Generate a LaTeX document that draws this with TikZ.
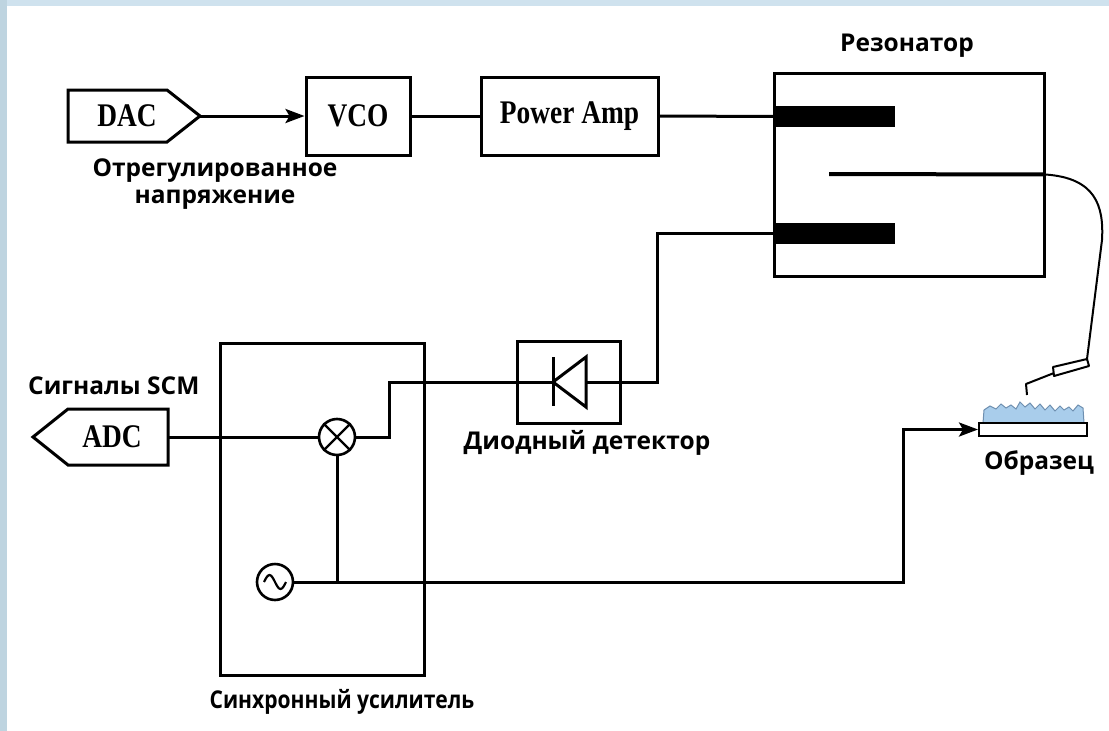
\documentclass[tikz,border=0pt]{standalone}
\usepackage{fontspec}
\setmainfont{Liberation Serif}
\newfontfamily\labfont{Open Sans}
\usetikzlibrary{arrows.meta,calc}
\definecolor{frameA}{HTML}{BED4E0}
\definecolor{frameB}{HTML}{CFE2EE}
\definecolor{film}{HTML}{A9CDEB}
\definecolor{filmedge}{HTML}{6E8FB0}
\newcommand\cond[1]{\scalebox{0.83}[1]{#1}}
\begin{document}
\begin{tikzpicture}[x=1pt,y=-1pt,
  line/.style={line width=3pt},
  blkfont/.style={font=\bfseries\fontsize{33}{35}\selectfont},
  blk/.style={draw,line width=3pt,minimum width=#1,minimum height=78pt,inner sep=0pt,blkfont},
  boxonly/.style={draw,line width=3pt,inner sep=0pt},
  tag/.style={font=\labfont\bfseries\fontsize{24.5}{27}\selectfont,align=center,inner sep=0pt},
  arr/.style={-{Stealth[length=19pt,width=14pt,inset=4pt]}},
  electrode/.style={fill=black,draw=none,minimum width=121pt,minimum height=21pt,inner sep=0pt,anchor=west}
]
\useasboundingbox (0,0) rectangle (1109,731);
\fill[white] (0,0) rectangle (1109,731);
\fill[frameB] (0,0) rectangle (1109,6);
\fill[frameA] (0,0) rectangle (7,731);

% --- source chain ---
\draw[line,line join=miter] (68,90) -- (167,90) -- (200,116) -- (167,142) -- (68,142) -- cycle;
\node[blkfont] (dac) at (127,116) {\cond{DAC}};
\coordinate (dactip) at (200,116);
\node[blk=104pt] (vco) at (358,116) {\cond{VCO}};
\node[blk=177pt] (pa) at (569.5,116) {\cond{Power Amp}};
\draw[line,arr] (dactip) -- (vco.west);
\draw[line] (vco.east) -- (pa.west);
\node[tag] (dactxt) at (215,184) {Отрегулированное\\напряжение};

% --- resonator ---
\node[boxonly,minimum width=270pt,minimum height=203pt] (res) at (909,174.5) {};
\node[electrode] (e1) at (774,116.5) {};
\node[electrode] (e2) at (774,233) {};
\coordinate (mid) at (829,174);
\draw[line width=4pt] (mid) -- (res.east);
\draw[line] (pa.east) -- (e1.west);
\node[tag] (restxt) at (907,46) {Резонатор};

% --- diode detector ---
\node[boxonly,minimum width=103pt,minimum height=82pt] (det) at (568.5,382) {};
\coordinate (dbar) at (553,382);
\coordinate (dbase) at (586,382);
\draw[line] (553,357) -- (553,406);
\draw[line,line join=miter] (dbase) -- (586,357) -- (dbar) -- (586,407) -- cycle;
\draw[line] (det.west) -- (dbar);
\draw[line] (dbase) -- (det.east);
\draw[line] (e2.west) -| (657,382) -- (det.east);
\node[tag] (dettxt) at (587,443) {Диодный детектор};

% --- lock-in amplifier ---
\node[boxonly,minimum width=204pt,minimum height=332pt] (lia) at (322,509) {};
\node[circle,draw,line width=2.6pt,minimum size=36pt,inner sep=0pt] (mix) at (337,437) {};
\draw[line width=2.4pt] (mix.north east) -- (mix.south west) (mix.north west) -- (mix.south east);
\node[circle,draw,line width=2.6pt,minimum size=36pt,inner sep=0pt] (osc) at (275,582) {};
\draw[line width=2.2pt] ($(osc)+(-11,0)$) sin ($(osc)+(-5.5,-7)$) cos (osc.center)
  sin ($(osc)+(5.5,7)$) cos ($(osc)+(11,0)$);
\draw[line] (det.west) -| (389,437) -- (mix.east);
\draw[line] (mix.south) -- (mix.south |- osc.east);
\node[tag] (liatxt) at (342,702) {\scalebox{0.86}[1]{Синхронный усилитель}};

% --- ADC output ---
\draw[line,line join=miter] (168,409) -- (68,409) -- (33,437) -- (68,465) -- (168,465) -- cycle;
\node[blkfont] (adc) at (112,437) {\cond{ADC}};
\coordinate (adcend) at (168,437);
\draw[line] (adcend) -- (mix.west);
\node[tag,anchor=west] (scm) at (28,386) {Сигналы SCM};

% --- sample and probe ---
\fill[film] (983,423) -- (984,410) -- (990,406) -- (996,409) -- (1001,404) -- (1006,408)
  -- (1011,405) -- (1016,409) -- (1020,402) -- (1025,407) -- (1030,403) -- (1035,409)
  -- (1040,404) -- (1045,410) -- (1050,405) -- (1055,411) -- (1060,406) -- (1064,410)
  -- (1069,407) -- (1073,411) -- (1078,405) -- (1083,408) -- (1084,423) -- cycle;
\draw[filmedge,line width=1pt] (983,423) -- (984,410) -- (990,406) -- (996,409) -- (1001,404) -- (1006,408)
  -- (1011,405) -- (1016,409) -- (1020,402) -- (1025,407) -- (1030,403) -- (1035,409)
  -- (1040,404) -- (1045,410) -- (1050,405) -- (1055,411) -- (1060,406) -- (1064,410)
  -- (1069,407) -- (1073,411) -- (1078,405) -- (1083,408) -- (1084,423);
\node[draw,line width=2pt,fill=white,minimum width=108pt,minimum height=13pt,inner sep=0pt] (sub) at (1033,429.5) {};
\draw[line,arr] (osc.east) -| (903,429.5) -- (sub.west);
\node[tag] (subtxt) at (1039,463) {Образец};
\coordinate (tipbase) at (1087,359);
\draw[line width=2pt] (res.east) .. controls (1095,178) and (1104,205) .. (1102,240) -- (tipbase);
\draw[line width=2pt,line join=round] (tipbase) -- (1089,366) -- (1054,376) -- (1053,367) -- cycle;
\draw[line width=2pt,line join=round] (1054,373) -- (1026,384) -- (1027,395);
\end{tikzpicture}
\end{document}
